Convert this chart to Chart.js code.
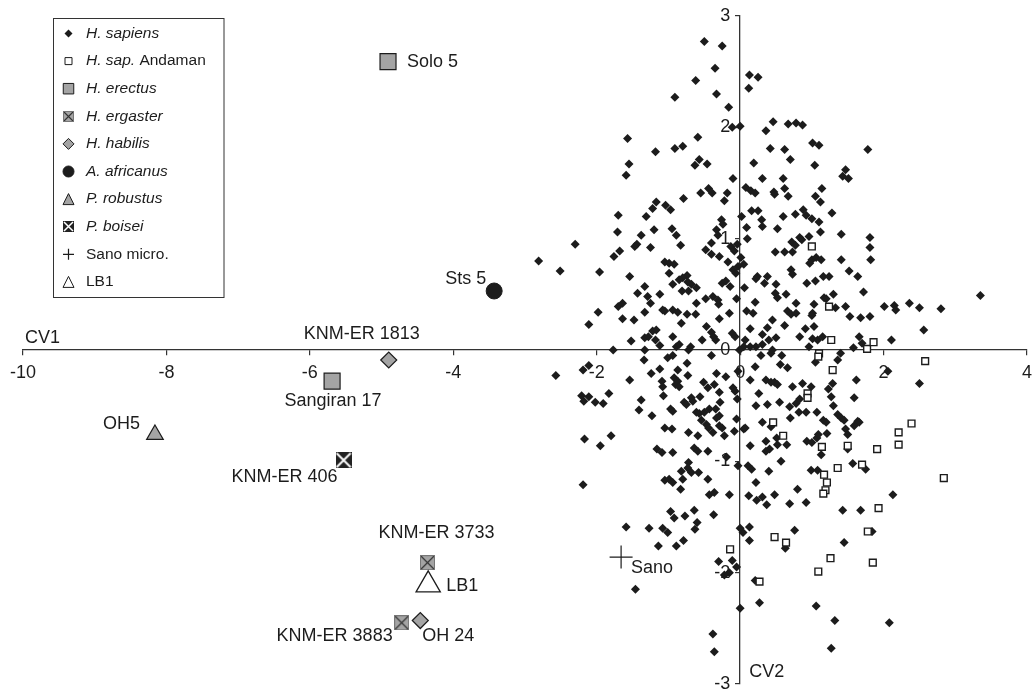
<!DOCTYPE html>
<html>
<head>
<meta charset="utf-8">
<script src="https://cdn.jsdelivr.net/npm/chart.js"></script>
<style>
  html, body { margin: 0; padding: 0; background: #fff; }
  canvas { display: block; }
</style>
</head>
<body>
<canvas id="cvChart" width="1033" height="691"></canvas>
<script>
// ---- data (CV1 / CV2 scores) ----
const cv1Ticks = [-10, -8, -6, -4, -2, 0, 2, 4];
const cv2Ticks = [-3, -2, -1, 0, 1, 2, 3];

const groups = ['H. sapiens', 'H. sap. Andaman', 'H. erectus', 'H. ergaster', 'H. habilis',
                'A. africanus', 'P. robustus', 'P. boisei', 'Sano micro.', 'LB1'];

const hSapiens = [
  [-0.50,2.77],[-0.25,2.73],[-0.35,2.53],[-0.62,2.42],[-0.91,2.27],[-0.33,2.30],[-0.16,2.18],[0.13,2.47],[0.25,2.45],[0.12,2.35],
  [-0.11,2.00],[0.00,2.01],[0.36,1.97],[0.46,2.05],[0.67,2.03],[0.78,2.04],[-1.57,1.90],[-1.18,1.78],[-0.91,1.81],[-0.80,1.83],
  [-0.59,1.91],[-1.55,1.67],[-1.59,1.57],[-0.63,1.66],[-0.57,1.71],[-0.46,1.67],[0.42,1.81],[0.62,1.80],[0.19,1.68],[0.70,1.71],
  [-0.10,1.54],[0.31,1.54],[0.60,1.54],[0.62,1.45],[0.47,1.42],[0.48,1.40],[0.67,1.38],[0.08,1.46],[0.15,1.43],[0.21,1.41],
  [-0.44,1.45],[-0.39,1.41],[-0.55,1.41],[-0.18,1.41],[-0.22,1.34],[-0.79,1.36],[-1.17,1.33],[-1.22,1.27],[-1.04,1.30],[-0.97,1.26],
  [-1.70,1.21],[-1.31,1.20],[-1.71,1.06],[-1.38,1.03],[-1.20,1.08],[-0.95,1.09],[-0.89,1.03],[-1.44,0.95],[-1.47,0.93],[-2.30,0.95],
  [-1.25,0.92],[-0.83,0.94],[-0.26,1.17],[-0.33,1.08],[-0.31,1.03],[-0.40,0.96],[0.02,1.20],[0.09,1.10],[0.10,1.00],[-0.04,0.95],
  [0.16,1.25],[0.25,1.25],[0.30,1.17],[0.31,1.11],[0.52,1.09],[0.60,1.20],[0.77,1.22],[0.72,0.97],
  [0.87,2.02],[1.01,1.86],[1.10,1.84],[1.78,1.80],[1.04,1.66],[1.47,1.62],[1.43,1.56],[1.51,1.54],[1.14,1.45],[1.05,1.38],
  [1.12,1.33],[1.28,1.23],[0.88,1.26],[0.92,1.21],[1.00,1.18],[1.10,1.15],[1.12,1.06],[1.41,1.04],[1.81,1.01],[0.96,1.02],
  [0.83,1.01],[0.86,0.99],[0.77,0.94],[1.81,0.92],
  [-1.76,0.84],[-1.68,0.89],[-0.24,1.13],[-0.48,0.90],[-0.40,0.86],[-0.29,0.84],[-0.17,0.79],[-0.13,0.93],[-0.08,0.89],[0.01,0.83],
  [0.05,0.77],[-0.10,0.72],[-0.06,0.69],[-0.03,0.75],[0.49,0.88],[0.62,0.88],[0.73,0.88],[0.71,0.72],[0.73,0.68],[0.38,0.66],
  [0.24,0.66],[-1.05,0.79],[-0.99,0.78],[-0.92,0.77],[-0.99,0.69],[-0.74,0.67],[-0.80,0.65],[-1.54,0.66],[-1.96,0.70],
  [-2.81,0.80],[-2.51,0.71],[-1.98,0.34],[-2.11,0.23],[-1.77,0.00],[-2.19,-0.18],[-2.11,-0.14],[-2.57,-0.23],[-2.21,-0.41],[-2.11,-0.42],
  [-2.18,-0.46],[-2.02,-0.47],[-1.91,-0.48],[-1.83,-0.39],[-2.17,-0.80],[-1.80,-0.77],[-1.95,-0.86],[-2.19,-1.21],
  [-1.33,0.57],[-1.43,0.51],[-1.29,0.48],[-1.25,0.42],[-1.12,0.50],[-0.94,0.59],[-0.85,0.63],[-0.73,0.61],[-0.68,0.59],[-0.81,0.53],
  [-0.72,0.53],[-0.61,0.56],[-0.61,0.42],[-0.48,0.46],[-0.38,0.48],[-0.31,0.45],[-0.30,0.41],[-0.25,0.60],[-0.20,0.62],[-0.14,0.57],
  [-0.05,0.46],[0.06,0.56],[-0.15,0.33],[-0.29,0.28],[-0.11,0.15],[-0.07,0.12],[-0.40,0.16],[-0.37,0.12],[-0.34,0.09],[-0.53,0.09],
  [-0.47,0.21],[-0.62,0.32],[-0.82,0.24],[-0.94,0.12],[-0.89,0.03],[-0.85,0.05],[-0.69,0.03],[-0.72,0.00],[-0.74,0.32],[-1.05,0.35],
  [-1.08,0.36],[-0.94,0.36],[-0.87,0.34],[-1.33,0.34],[-1.64,0.28],[-1.48,0.27],[-1.70,0.39],[-1.64,0.42],[-1.22,0.17],[-1.17,0.18],
  [-1.33,0.11],[-1.28,0.12],[-1.18,0.09],[-1.12,0.04],[-1.52,0.08],[-1.33,0.00],[-1.34,-0.09],[-1.24,-0.21],[-1.12,-0.17],[-1.01,-0.07],
  [-0.94,-0.05],[-0.87,-0.18],[-0.74,-0.12],[-0.73,-0.23],[-1.54,-0.27],[-1.09,-0.28],[-1.08,-0.33],[-1.07,-0.41],[-0.92,-0.25],[-0.90,-0.31],
  [-0.87,-0.28],[-0.85,-0.33],[-0.51,-0.29],[-0.45,-0.34],[-0.36,-0.31],[-0.33,-0.21],[-0.20,-0.24],[-0.40,-0.05],[-0.10,-0.34],[-0.07,-0.37],
  [-0.29,-0.38],[-1.38,-0.45],[-1.41,-0.54],[-1.23,-0.59],[-0.97,-0.53],[-0.94,-0.55],[-0.78,-0.47],[-0.75,-0.49],[-0.68,-0.43],[-0.66,-0.46],
  [-0.56,-0.42],[-0.61,-0.56],[-0.57,-0.57],[-0.50,-0.56],[-0.43,-0.53],[-0.34,-0.53],[-0.29,-0.59],[-0.33,-0.61],[-0.28,-0.47],[-0.04,-0.44],
  [-1.05,-0.70],[-0.95,-0.71],[-0.72,-0.74],[-0.59,-0.77],[-0.54,-0.63],[-0.47,-0.67],[-0.44,-0.70],[-0.38,-0.74],[-0.25,-0.70],[-0.29,-0.68],
  [-0.05,-0.62],[-0.08,-0.73],[0.05,-0.71],[0.07,-0.70],[-0.64,-0.88],[-0.59,-0.91],[-0.45,-0.91],[-1.16,-0.89],[-1.09,-0.92],[-0.94,-0.92],
  [-0.19,-0.96],[-0.03,-1.04],[-0.72,-1.01],[-0.73,-1.06],[-0.82,-1.09],[-0.68,-1.10],[-0.58,-1.10],[-1.05,-1.17],[-0.99,-1.16],[-0.94,-1.19],
  [-0.80,-1.16],[-0.45,-1.16],[-0.83,-1.25],[-0.43,-1.30],[-0.36,-1.28],[-0.15,-1.30],[0.11,-1.04],[0.16,-1.07],[0.40,-1.09],[0.57,-1.00],
  [0.22,-1.19],[0.12,-1.31],[0.31,-1.32],[0.48,-1.30],[0.80,-1.25],[0.14,-0.86],[0.36,-0.82],[0.41,-0.89],[0.36,-0.91],[0.52,-0.85],
  [0.65,-0.85],[0.51,-0.79],[0.31,-0.65],[0.43,-0.69],[0.38,-0.49],[0.55,-0.47],[0.69,-0.51],[0.78,-0.48],[0.22,-0.50],[0.26,-0.39],
  [0.14,-0.27],[0.36,-0.27],[0.43,-0.29],[0.48,-0.29],[0.52,-0.31],[0.73,-0.33],[-0.03,-0.19],[0.21,-0.15],[0.56,-0.13],[0.66,-0.16],
  [0.58,-0.05],[0.43,-0.03],[0.45,0.00],[0.29,-0.05],[0.14,0.03],[0.22,0.03],[0.31,0.05],[0.05,0.03],[-0.01,0.00],[0.07,0.09],
  [0.40,0.09],[0.50,0.11],[0.31,0.14],[0.14,0.19],[0.38,0.20],[0.62,0.22],[0.09,0.35],[0.18,0.33],[0.21,0.43],[0.45,0.27],
  [0.49,0.51],[0.52,0.47],[0.64,0.50],[0.22,0.64],[0.34,0.60],[0.50,0.59],[0.66,0.35],[0.71,0.32],[0.78,0.33],[0.78,0.42],
  [1.00,0.81],[1.06,0.83],[1.13,0.81],[0.97,0.78],[1.41,0.81],[1.82,0.81],[1.52,0.71],[1.64,0.66],[0.93,0.60],[1.05,0.62],
  [1.16,0.66],[1.24,0.66],[1.72,0.52],[1.30,0.50],[1.17,0.47],[1.20,0.46],[1.33,0.38],[1.47,0.39],[1.03,0.41],[1.01,0.33],
  [1.00,0.31],[1.53,0.30],[1.68,0.29],[1.81,0.30],[2.01,0.39],[2.15,0.40],[2.17,0.36],[2.36,0.42],[2.50,0.38],[2.80,0.37],
  [3.35,0.49],[2.56,0.18],[2.11,0.09],[0.91,0.19],[1.03,0.21],[0.83,0.12],[1.01,0.10],[1.08,0.09],[1.15,0.12],[0.96,0.03],
  [1.05,-0.11],[1.40,-0.03],[1.36,-0.09],[1.58,0.02],[1.66,0.12],[1.70,0.06],[2.06,-0.19],[1.62,-0.27],[2.50,-0.30],[1.29,-0.30],
  [1.23,-0.35],[1.27,-0.42],[1.59,-0.43],[0.99,-0.33],[0.87,-0.30],[0.83,-0.44],[0.92,-0.56],[1.07,-0.56],[1.30,-0.50],[0.70,-0.61],
  [0.82,-0.56],[1.16,-0.63],[1.20,-0.65],[1.36,-0.58],[1.41,-0.61],[1.45,-0.63],[1.64,-0.64],[1.66,-0.65],[1.59,-0.68],[1.47,-0.71],
  [1.50,-0.76],[1.21,-0.75],[1.50,-0.89],[1.13,-0.94],[0.93,-0.82],[1.00,-0.83],[1.07,-0.79],[1.09,-0.76],[1.57,-1.02],[1.75,-1.07],
  [2.13,-1.30],[0.99,-1.08],[1.08,-1.08],[1.68,-1.44],[1.84,-1.63],[2.08,-2.45],
  [0.23,-1.35],[0.37,-1.39],[0.69,-1.38],[0.92,-1.37],[1.43,-1.44],[1.45,-1.73],[0.76,-1.62],[0.63,-1.78],[1.06,-2.30],[1.32,-2.43],
  [1.27,-2.68],[0.00,-1.60],[0.04,-1.64],[0.13,-1.59],[0.13,-1.71],[-0.30,-1.90],[-0.11,-1.89],[-0.05,-1.95],[-0.15,-2.00],[-0.22,-2.02],
  [0.21,-2.07],[0.27,-2.27],[0.00,-2.32],[-0.38,-2.55],[-0.36,-2.71],[-1.59,-1.59],[-1.27,-1.60],[-1.08,-1.60],[-1.01,-1.64],[-1.14,-1.76],
  [-0.89,-1.76],[-0.79,-1.71],[-0.97,-1.45],[-0.92,-1.51],[-0.77,-1.49],[-0.64,-1.44],[-0.60,-1.55],[-0.63,-1.61],[-0.37,-1.48],[-1.46,-2.15],
  [-0.22,-0.77]
];

const andaman = [
  [1.00,0.93],[0.46,-0.65],[0.60,-0.77],[1.24,0.39],[1.27,0.09],[1.10,-0.03],[1.09,-0.06],[1.77,0.01],[1.86,0.07],[1.29,-0.18],
  [2.58,-0.10],[0.94,-0.39],[0.94,-0.43],[2.39,-0.66],[2.21,-0.74],[2.21,-0.85],[1.91,-0.89],[1.50,-0.86],[1.14,-0.87],[1.70,-1.03],
  [1.36,-1.06],[1.17,-1.12],[1.21,-1.19],[1.19,-1.26],[1.16,-1.29],[2.84,-1.15],[1.93,-1.42],[1.78,-1.63],[1.85,-1.91],[0.48,-1.68],
  [0.64,-1.73],[1.26,-1.87],[-0.14,-1.79],[0.27,-2.08],[1.09,-1.99]
];

const fossilNames  = ['Solo 5', 'Sangiran 17', 'KNM-ER 3733', 'KNM-ER 3883', 'KNM-ER 1813', 'OH 24',
                      'Sts 5', 'OH5', 'KNM-ER 406', 'Sano', 'LB1'];
const fossilGroups = ['H. erectus', 'H. erectus', 'H. ergaster', 'H. ergaster', 'H. habilis', 'H. habilis',
                      'A. africanus', 'P. robustus', 'P. boisei', 'Sano micro.', 'LB1'];
const fossilCV1 = [-4.91, -5.69, -4.36, -4.72, -4.90, -4.46, -3.43, -8.16, -5.53, -1.66, -4.35];
const fossilCV2 = [ 2.59, -0.28, -1.91, -2.45, -0.09, -2.43,  0.53, -0.76, -0.99, -1.86, -2.11];

// ---- styling ----
const INK = '#1c1c1c';
const GRAY = '#a4a4a4';
const FONT = '"Liberation Sans", Arial, Helvetica, sans-serif';

function crossedSquare(size, fill, lineColor, lineWidth, edge) {
  const c = document.createElement('canvas');
  c.width = size; c.height = size;
  const g = c.getContext('2d');
  g.fillStyle = fill;
  g.fillRect(0, 0, size, size);
  g.strokeStyle = lineColor;
  g.lineWidth = lineWidth;
  g.beginPath();
  g.moveTo(1, 1); g.lineTo(size - 1, size - 1);
  g.moveTo(size - 1, 1); g.lineTo(1, size - 1);
  g.stroke();
  if (edge) {
    g.strokeStyle = edge;
    g.lineWidth = 1;
    g.strokeRect(0.5, 0.5, size - 1, size - 1);
  }
  return c;
}

const ergasterImg = crossedSquare(15, GRAY, '#333', 1.2, '#777');
const boiseiImg   = crossedSquare(16, '#222', '#fff', 2, null);
const ergasterSmall = crossedSquare(11, GRAY, '#333', 1.1, '#777');
const boiseiSmall   = crossedSquare(11, '#222', '#fff', 1.5, null);

// chart point style + legend marker per group
const groupStyle = {
  'H. sapiens':      { ps: 'rectRot', r: 4.5, fill: INK, stroke: INK, lw: 0, order: 9,
                       mark: 'diamond', ms: 8, parts: [['H. sapiens', true]] },
  'H. sap. Andaman': { ps: 'rect', r: 4.8, fill: '#fff', stroke: INK, lw: 1.4, order: 8,
                       mark: 'square', ms: 7, parts: [['H. sap.', true], [' Andaman', false]] },
  'H. erectus':      { ps: 'rect', r: 11.3, fill: GRAY, stroke: INK, lw: 1.2, order: 1,
                       mark: 'square', ms: 10.5, parts: [['H. erectus', true]] },
  'H. ergaster':     { ps: ergasterImg, r: 8, fill: GRAY, stroke: INK, lw: 0, order: 1,
                       mark: ergasterSmall, ms: 11, parts: [['H. ergaster', true]] },
  'H. habilis':      { ps: 'rectRot', r: 8, fill: GRAY, stroke: INK, lw: 1.2, order: 1,
                       mark: 'diamond', ms: 11, parts: [['H. habilis', true]] },
  'A. africanus':    { ps: 'circle', r: 8, fill: INK, stroke: INK, lw: 1, order: 1,
                       mark: 'circle', ms: 11, parts: [['A. africanus', true]] },
  'P. robustus':     { ps: 'triangle', r: 9.6, fill: GRAY, stroke: INK, lw: 1.2, order: 1,
                       mark: 'triangle', ms: 11, parts: [['P. robustus', true]] },
  'P. boisei':       { ps: boiseiImg, r: 8, fill: INK, stroke: INK, lw: 0, order: 1,
                       mark: boiseiSmall, ms: 11, parts: [['P. boisei', true]] },
  'Sano micro.':     { ps: 'cross', r: 11.5, fill: INK, stroke: INK, lw: 1.2, order: 0,
                       mark: 'cross', ms: 11, parts: [['Sano micro.', false]] },
  'LB1':             { ps: 'triangle', r: 14, fill: '#fff', stroke: INK, lw: 1.3, order: 0,
                       mark: 'triangle', ms: 11, parts: [['LB1', false]] }
};

// label placement relative to its marker: [dx, dy, align]
const labelPlace = {
  'Solo 5':      [19, 0, 'left'],
  'Sangiran 17': [1, 20, 'center'],
  'KNM-ER 3733': [9, -30, 'center'],
  'KNM-ER 3883': [-9, 13, 'right'],
  'KNM-ER 1813': [-27, -26, 'center'],
  'OH 24':       [2, 15, 'left'],
  'Sts 5':       [-8, -12, 'right'],
  'OH5':         [-15, -11, 'right'],
  'KNM-ER 406':  [-6, 17, 'right'],
  'Sano':        [10, 11, 'left'],
  'LB1':         [18, 1, 'left']
};

// ---- datasets ----
const datasets = groups.map(function (g) {
  const st = groupStyle[g];
  let pts;
  if (g === 'H. sapiens') pts = hSapiens.map(p => ({ x: p[0], y: p[1] }));
  else if (g === 'H. sap. Andaman') pts = andaman.map(p => ({ x: p[0], y: p[1] }));
  else {
    pts = [];
    fossilGroups.forEach(function (fg, i) {
      if (fg === g) pts.push({ x: fossilCV1[i], y: fossilCV2[i] });
    });
  }
  return {
    label: g,
    data: pts,
    order: st.order,
    pointStyle: st.ps,
    pointRadius: st.r,
    pointHoverRadius: st.r,
    backgroundColor: st.fill,
    borderColor: st.stroke,
    borderWidth: st.lw,
    pointBorderWidth: st.lw,
    clip: false
  };
});

// ---- legend, specimen labels and axis titles ----
function drawMark(ctx, mark, x, y, s, fill, stroke, lw) {
  if (typeof mark !== 'string') {
    ctx.drawImage(mark, Math.round(x - mark.width / 2), Math.round(y - mark.height / 2));
    return;
  }
  ctx.beginPath();
  const h = s / 2;
  if (mark === 'diamond') {
    ctx.moveTo(x, y - h); ctx.lineTo(x + h, y); ctx.lineTo(x, y + h); ctx.lineTo(x - h, y); ctx.closePath();
  } else if (mark === 'square') {
    ctx.rect(x - h, y - h, s, s);
  } else if (mark === 'circle') {
    ctx.arc(x, y, h, 0, Math.PI * 2);
  } else if (mark === 'triangle') {
    ctx.moveTo(x, y - h); ctx.lineTo(x + h, y + h); ctx.lineTo(x - h, y + h); ctx.closePath();
  } else if (mark === 'cross') {
    ctx.moveTo(x - h, y); ctx.lineTo(x + h, y); ctx.moveTo(x, y - h); ctx.lineTo(x, y + h);
    ctx.strokeStyle = stroke; ctx.lineWidth = 1.2; ctx.stroke();
    return;
  }
  ctx.fillStyle = fill; ctx.fill();
  if (lw > 0) { ctx.strokeStyle = stroke; ctx.lineWidth = lw; ctx.stroke(); }
}

const annotate = {
  id: 'annotate',
  afterDatasetsDraw(chart) {
    const ctx = chart.ctx;
    const xs = chart.scales.x, ys = chart.scales.y;
    const area = chart.chartArea;
    ctx.save();
    ctx.fillStyle = INK;
    ctx.textBaseline = 'middle';

    // specimen names
    ctx.font = '18px ' + FONT;
    fossilNames.forEach(function (name, i) {
      const pl = labelPlace[name];
      ctx.textAlign = pl[2];
      ctx.fillText(name, xs.getPixelForValue(fossilCV1[i]) + pl[0], ys.getPixelForValue(fossilCV2[i]) + pl[1]);
    });

    // axis titles
    ctx.textAlign = 'left';
    ctx.fillText('CV1', area.left + 2, ys.getPixelForValue(0) - 12);
    ctx.fillText('CV2', xs.getPixelForValue(0) + 9, area.bottom - 12);

    // legend box
    const box = { left: 53.5, top: 18.5, w: 170.5, h: 279 };
    ctx.fillStyle = '#fff';
    ctx.fillRect(box.left, box.top, box.w, box.h);
    ctx.strokeStyle = '#333';
    ctx.lineWidth = 1;
    ctx.strokeRect(box.left, box.top, box.w, box.h);

    groups.forEach(function (g, i) {
      const st = groupStyle[g];
      const y = 33.5 + i * 27.6;
      drawMark(ctx, st.mark, 68.5, y, st.ms, st.fill, st.stroke, st.lw > 0 ? 1 : 0);
      let x = 86;
      ctx.fillStyle = INK;
      ctx.textAlign = 'left';
      st.parts.forEach(function (p) {
        ctx.font = (p[1] ? 'italic ' : '') + '15.5px ' + FONT;
        ctx.fillText(p[0], x, y);
        x += ctx.measureText(p[0]).width;
      });
    });
    ctx.restore();
  }
};

const axisFont = { family: FONT, size: 18 };
// centred axes: keep the chart area exactly the layout box
function noScalePadding(s) { s.paddingLeft = 0; s.paddingRight = 0; s.paddingTop = 0; s.paddingBottom = 0; }

new Chart(document.getElementById('cvChart'), {
  type: 'scatter',
  data: { datasets: datasets },
  plugins: [annotate],
  options: {
    responsive: false,
    animation: false,
    events: [],
    layout: { autoPadding: false, padding: { left: 23, right: 6, top: 16, bottom: 7 } },
    plugins: { legend: { display: false }, tooltip: { enabled: false } },
    scales: {
      x: {
        type: 'linear',
        min: cv1Ticks[0],
        max: cv1Ticks[cv1Ticks.length - 1],
        position: { y: 0 },
        afterBuildTicks: function (s) { s.ticks = cv1Ticks.map(v => ({ value: v })); },
        afterFit: noScalePadding,
        ticks: { font: axisFont, color: INK, padding: 7, maxRotation: 0, autoSkip: false },
        grid: { drawOnChartArea: false, tickLength: 5, color: '#333', lineWidth: 1.2 },
        border: { color: '#333', width: 1.3 }
      },
      y: {
        type: 'linear',
        min: cv2Ticks[0],
        max: cv2Ticks[cv2Ticks.length - 1],
        position: { x: 0 },
        afterBuildTicks: function (s) { s.ticks = cv2Ticks.map(v => ({ value: v })); },
        afterFit: noScalePadding,
        ticks: { font: axisFont, color: INK, padding: 6, autoSkip: false,
                 callback: function (v) { return v + '  '; } },
        grid: { drawOnChartArea: false, tickLength: 4, color: '#333', lineWidth: 1.2 },
        border: { color: '#333', width: 1.3 }
      }
    }
  }
});
</script>
</body>
</html>
